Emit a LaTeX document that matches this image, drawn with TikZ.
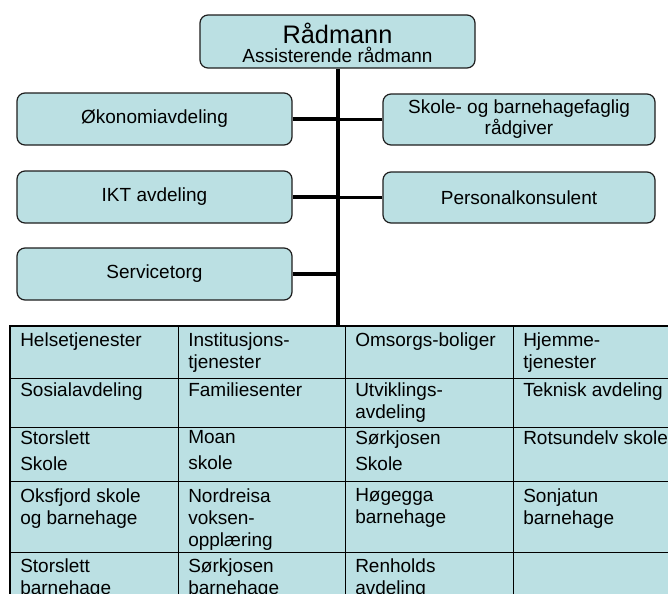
\documentclass[tikz,border=0pt]{standalone}
\usepackage{fontspec}
\setmainfont{Liberation Sans}
\definecolor{boxfill}{RGB}{187,224,227}
\definecolor{boxline}{RGB}{30,30,30}
\begin{document}
\begin{tikzpicture}[x=0.75pt,y=-0.75pt,
  box/.style={draw=boxline, line width=0.9pt, fill=boxfill, rounded corners=6pt,
    inner sep=0pt, align=center, font=\fontsize{14.25}{15.75}\selectfont},
  branch/.style={line width=2.6pt},
  trunk/.style={line width=3pt},
  grid/.style={line width=0.75pt},
  border/.style={line width=2pt},
  cell/.style={anchor=north west, inner sep=0pt, align=left,
    font=\fontsize{14.25}{16.5}\selectfont}]
\clip (0,0) rectangle (668,593);
\useasboundingbox (0,0) rectangle (668,593);
\fill[white] (0,0) rectangle (668,593);

% top box
\node[box, minimum width=206.25pt, minimum height=39.75pt] (r) at (337.5,41.5) {};
\node[font=\fontsize{19}{22}\selectfont, inner sep=0pt] (rt) at (337.5,33) {Rådmann};
\node[font=\fontsize{14.25}{16}\selectfont, inner sep=0pt] (rs) at (337.5,55) {Assisterende rådmann};

% staff boxes
\node[box, minimum width=206.25pt, minimum height=39pt] (l1) at (154.5,119) {Økonomiavdeling};
\node[box, minimum width=206.25pt, minimum height=39pt] (l2) at (154.5,197) {IKT avdeling};
\node[box, minimum width=206.25pt, minimum height=39pt] (l3) at (154.5,274) {Servicetorg};
\node[box, minimum width=204pt, minimum height=38.25pt] (q1) at (519,119.5) {Skole- og barnehagefaglig\\rådgiver};
\node[box, minimum width=204pt, minimum height=38.25pt] (q2) at (519,197.5) {Personalkonsulent};

% table
\coordinate (tk) at (337.5,326);
\fill[boxfill] (10,326) rectangle (720,640);
\foreach \yy in {378,427,481,552} \draw[grid] (10,\yy) -- (720,\yy);
\foreach \xx in {178,345,513,680} \draw[grid] (\xx,326) -- (\xx,640);
\draw[border] (720,326) -- (10,326) -- (10,640);

% connectors
\draw[trunk] (r.south) -- (tk);
\draw[branch] (l1.east) -- (l1.east -| tk);
\draw[branch] (l2.east) -- (l2.east -| tk);
\draw[branch] (l3.east) -- (l3.east -| tk);
\draw[branch] (q1.west) -- (q1.west -| tk);
\draw[branch] (q2.west) -- (q2.west -| tk);

% row 1
\node[cell] (c11) at (20,332) {Helsetjenester};
\node[cell] (c12) at (188,332) {Institusjons-\\tjenester};
\node[cell] (c13) at (355,332) {Omsorgs-boliger};
\node[cell] (c14) at (523,332) {Hjemme-\\tjenester};
% row 2
\node[cell] (c21) at (20,382.5) {Sosialavdeling};
\node[cell] (c22) at (188,382.5) {Familiesenter};
\node[cell] (c23) at (355,382.5) {Utviklings-\\avdeling};
\node[cell] (c24) at (523,382.5) {Teknisk avdeling};
% row 3
\node[cell] (c31) at (20,430.5) {Storslett\\[3pt]Skole};
\node[cell] (c32) at (188,430.5) {Moan\\[3pt]skole};
\node[cell] (c33) at (355,430.5) {Sørkjosen\\[3pt]Skole};
\node[cell] (c34) at (523,430.5) {Rotsundelv skole};
% row 4
\node[cell] (c41) at (20,488) {Oksfjord skole\\og barnehage};
\node[cell] (c42) at (188,488) {Nordreisa\\voksen-\\opplæring};
\node[cell] (c43) at (355,488) {Høgegga\\barnehage};
\node[cell] (c44) at (523,488) {Sonjatun\\barnehage};
% row 5
\node[cell] (c51) at (20,558) {Storslett\\barnehage};
\node[cell] (c52) at (188,558) {Sørkjosen\\barnehage};
\node[cell] (c53) at (355,558) {Renholds\\avdeling};
\end{tikzpicture}
\end{document}
